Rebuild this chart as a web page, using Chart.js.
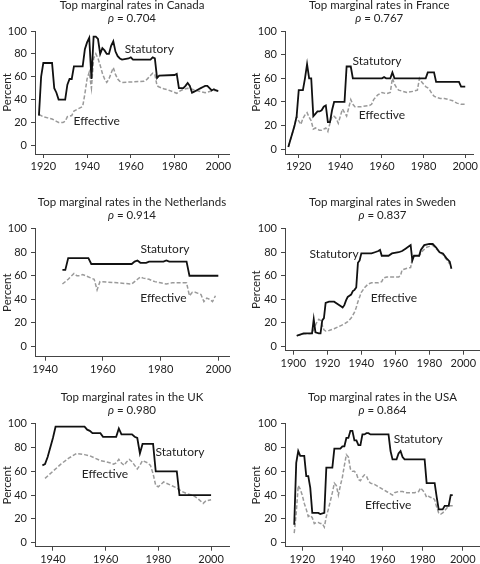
<!DOCTYPE html>
<html>
<head>
<meta charset="utf-8">
<script src="https://cdn.jsdelivr.net/npm/chart.js@4.4.1/dist/chart.umd.min.js"></script>
<style>
  body { margin: 0; background: #fff; }
  #wrap { position: relative; width: 480px; height: 564px; overflow: hidden; }
  #wrap canvas { position: absolute; }
</style>
</head>
<body>
<div id="wrap"></div>
<script>
// ---- data ----
const yTicks = [0, 20, 40, 60, 80, 100];

const caStatYears = [1918, 1919, 1920, 1924, 1925, 1926, 1927, 1930, 1931, 1932, 1933, 1934, 1938, 1939, 1940, 1941, 1942, 1943, 1944, 1945, 1946, 1947, 1948, 1949, 1950, 1951, 1952, 1953, 1954, 1955, 1956, 1959, 1960, 1961, 1969, 1970, 1971, 1972, 1973, 1980, 1981, 1982, 1984, 1985, 1986, 1987, 1988, 1989, 1990, 1991, 1992, 1993, 1994, 1995, 1996, 1997, 1998, 1999, 2000];
const caStat = [26, 60, 72, 72, 50, 46, 40, 40, 53, 58, 58, 69, 69, 84, 90, 94, 58, 95, 95, 93, 80, 85, 83, 80, 80, 87, 91, 82, 78, 76, 75, 76, 77, 75, 75, 77, 76, 59, 61, 61.5, 62.5, 50, 50, 52, 54.5, 52, 46, 47, 48, 49, 50, 51, 52, 52, 50, 48, 49, 48, 47.5];
const caEffYears = [1918, 1920, 1922, 1924, 1926, 1927, 1929, 1930, 1931, 1933, 1934, 1936, 1938, 1939, 1940, 1941, 1942, 1943, 1944, 1945, 1946, 1947, 1948, 1949, 1950, 1951, 1952, 1953, 1954, 1955, 1956, 1966, 1967, 1968, 1969, 1970, 1971, 1972, 1973, 1975, 1977, 1979, 1981, 1982, 1984, 1986, 1988, 1990, 1992, 1994, 1996, 1998, 2000];
const caEff = [27, 25, 24, 23, 21, 20, 20, 21, 25, 26, 30, 32, 34, 45, 58, 64, 50, 76, 80, 76, 70, 63, 58, 55, 58, 63, 68, 62, 58, 56, 55, 56, 57, 59, 61, 63, 62, 52, 51, 49.5, 48.5, 47, 45.5, 47, 49, 50, 49, 48, 47, 46, 47, 48, 48];

const frStatYears = [1915, 1916, 1917, 1918, 1919, 1920, 1922, 1923, 1924, 1925, 1926, 1927, 1928, 1929, 1930, 1931, 1932, 1933, 1934, 1935, 1936, 1937, 1942, 1943, 1945, 1946, 1960, 1961, 1962, 1964, 1965, 1966, 1981, 1982, 1985, 1986, 1997, 1998, 2000];
const frStat = [2, 8, 14, 20, 28, 50, 50, 60, 72, 60, 60, 28, 30, 32, 32, 33, 36, 37, 23, 23, 33, 40, 40, 70, 70, 60, 60, 61, 60, 60, 65, 60, 60, 65, 65, 57, 57, 53, 53];
const frEffYears = [1915, 1916, 1917, 1918, 1919, 1920, 1921, 1922, 1923, 1924, 1925, 1926, 1927, 1928, 1929, 1930, 1931, 1932, 1933, 1934, 1935, 1936, 1937, 1938, 1939, 1940, 1941, 1942, 1943, 1944, 1945, 1946, 1947, 1950, 1954, 1955, 1956, 1958, 1960, 1962, 1964, 1965, 1966, 1967, 1968, 1970, 1972, 1975, 1977, 1978, 1979, 1980, 1981, 1982, 1983, 1984, 1985, 1986, 1988, 1990, 1992, 1994, 1996, 1998, 2000];
const frEff = [2, 8, 14, 20, 28, 24, 21, 26, 29, 31, 27, 24, 17, 18, 17, 16, 16, 17, 18, 15, 22, 28, 28, 26, 22, 28, 34, 31, 28, 35, 42, 38, 36, 36, 37, 38, 42, 46, 48, 47, 48, 60, 55, 52, 50, 49, 48, 49, 50, 60, 57, 55, 53, 52, 50, 47, 45, 44, 43, 43, 42, 41, 39, 38, 38];

const nlStatYears = [1946, 1947, 1948, 1955, 1956, 1970, 1971, 1972, 1973, 1975, 1976, 1981, 1982, 1983, 1989, 1990, 2000];
const nlStat = [65, 65, 75, 75, 70, 70, 72, 73, 71, 71, 72, 72, 73, 72, 72, 60, 60];
const nlEffYears = [1946, 1948, 1950, 1951, 1952, 1953, 1954, 1956, 1957, 1958, 1959, 1965, 1970, 1971, 1972, 1973, 1974, 1976, 1978, 1980, 1982, 1984, 1989, 1990, 1991, 1992, 1993, 1994, 1995, 1996, 1997, 1998, 1999];
const nlEff = [53, 57, 62, 60, 60, 61, 60, 58, 57, 48, 55, 54, 53, 55, 57, 59, 58, 57, 55, 54, 53, 54, 54, 43, 46, 46, 45, 44, 38, 41, 40, 38, 43];

const seStatYears = [1902, 1904, 1906, 1911, 1912, 1913, 1915, 1916, 1917, 1918, 1919, 1921, 1924, 1926, 1928, 1929, 1930, 1931, 1932, 1933, 1934, 1935, 1936, 1937, 1938, 1939, 1940, 1946, 1948, 1950, 1951, 1952, 1956, 1958, 1962, 1964, 1966, 1968, 1969, 1970, 1971, 1974, 1975, 1977, 1980, 1982, 1984, 1986, 1988, 1990, 1992, 1993];
const seStat = [9, 10, 11, 11, 23, 12, 11, 11, 22, 24, 37, 38, 38, 36, 34, 33, 35, 39, 42, 43, 44, 47, 48, 50, 71, 73, 79, 79, 80, 81, 82, 77, 77, 79, 80, 81, 83, 85, 86, 73, 77, 77, 82, 86, 87, 87, 84, 80, 79, 75, 72, 66];
const seEffYears = [1902, 1904, 1906, 1911, 1912, 1913, 1914, 1915, 1916, 1917, 1918, 1919, 1921, 1924, 1927, 1930, 1932, 1934, 1936, 1937, 1938, 1939, 1940, 1942, 1944, 1946, 1950, 1952, 1953, 1955, 1962, 1963, 1964, 1966, 1969, 1970, 1971, 1974, 1976, 1978, 1980, 1982, 1984, 1986, 1988, 1990, 1992];
const seEff = [9, 10, 10.5, 11, 14, 18, 21, 23, 22, 18, 14, 13, 13.5, 15, 17, 19, 21, 24, 29, 33, 38, 42, 46, 50, 53, 54, 54, 55, 58, 59, 59, 60, 65, 66, 67, 75, 77, 77, 81, 84, 85, 86, 83, 80, 78, 74, 70];

const ukStatYears = [1936, 1937, 1938, 1939, 1940, 1941, 1952, 1953, 1954, 1955, 1958, 1959, 1964, 1965, 1966, 1970, 1971, 1972, 1973, 1974, 1978, 1979, 1987, 1988, 2000];
const ukStat = [65, 66, 72, 80, 88, 97.5, 97.5, 95, 94, 92, 92, 89, 89, 96, 91, 91, 89, 88, 75, 83, 83, 60, 60, 40, 40];
const ukEffYears = [1937, 1940, 1943, 1946, 1949, 1952, 1954, 1956, 1958, 1960, 1962, 1963, 1964, 1965, 1966, 1967, 1968, 1969, 1970, 1971, 1972, 1973, 1974, 1976, 1977, 1978, 1979, 1980, 1981, 1982, 1983, 1985, 1987, 1989, 1991, 1993, 1995, 1997, 1998, 2000];
const ukEff = [54, 60, 66, 71, 75, 74, 73, 71, 69, 68, 67, 66, 67, 70, 67, 65, 68, 70, 68, 65, 62, 65, 69, 67, 65, 58, 48, 47, 49, 51, 50, 48, 46, 43, 41, 40, 37, 33, 35, 36];

const usStatYears = [1916, 1917, 1918, 1919, 1921, 1922, 1923, 1924, 1925, 1928, 1929, 1931, 1932, 1935, 1936, 1939, 1940, 1941, 1942, 1943, 1944, 1945, 1946, 1947, 1948, 1949, 1950, 1951, 1952, 1953, 1954, 1963, 1964, 1965, 1967, 1968, 1969, 1970, 1971, 1981, 1982, 1986, 1987, 1988, 1990, 1991, 1993, 1994, 1995];
const usStat = [15, 67, 77, 73, 73, 56, 56, 46, 25, 25, 24, 25, 63, 63, 79, 79, 81, 81, 88, 88, 94, 94, 86, 86, 82, 82, 91, 91, 92, 92, 91, 91, 77, 70, 70, 75, 77, 72, 70, 70, 50, 50, 38.5, 28, 28, 31, 31, 40, 40];
const usEffYears = [1916, 1917, 1918, 1919, 1920, 1921, 1922, 1923, 1924, 1925, 1926, 1927, 1928, 1929, 1930, 1931, 1932, 1933, 1934, 1935, 1936, 1937, 1938, 1939, 1940, 1941, 1942, 1943, 1944, 1945, 1946, 1947, 1948, 1949, 1950, 1951, 1952, 1953, 1954, 1956, 1958, 1960, 1962, 1964, 1965, 1966, 1968, 1970, 1972, 1974, 1976, 1978, 1979, 1980, 1981, 1982, 1983, 1984, 1985, 1986, 1987, 1988, 1989, 1990, 1991, 1992, 1993, 1995];
const usEff = [8, 25, 48, 45, 40, 33, 28, 22, 23, 21, 16, 17, 17, 16, 16, 13, 22, 28, 35, 42, 50, 48, 40, 48, 55, 65, 74, 72, 62, 60, 60, 58, 53, 52, 55, 57, 56, 52, 50, 49, 47, 45, 43, 41, 40, 42, 43, 43, 42, 42, 42, 43, 46, 44, 42, 38, 39, 38, 38, 36, 30, 25, 24, 25, 27, 29, 31, 31];

// ---- panel layout ----
const panels = [
  { name: 'Canada', rho: '0.704', left: 0, top: 0, h: 185, areaTop: 31, areaBottom: 154, padLeft: 0, padRight: 11, yW: 35,
    xMin: 1916.2, xMax: 2004.9, yMin: -7.6, xTicks: [1920, 1940, 1960, 1980, 2000],
    stat: [caStatYears, caStat], eff: [caEffYears, caEff], statLbl: [1968.5, 84], effLbl: [1944.4, 21] },
  { name: 'France', rho: '0.767', left: 240, top: 0, h: 185, areaTop: 31, areaBottom: 154, padLeft: 9, padRight: 0, yW: 36,
    xMin: 1913.4, xMax: 2004, yMin: -4, xTicks: [1920, 1940, 1960, 1980, 2000],
    stat: [frStatYears, frStat], eff: [frEffYears, frEff], statLbl: [1957.6, 74.4], effLbl: [1960, 29] },
  { name: 'the Netherlands', rho: '0.914', left: 0, top: 185, h: 190, areaTop: 43.7, areaBottom: 171.7, padLeft: 0, padRight: 11, yW: 35,
    xMin: 1936.5, xMax: 2003.7, yMin: -8.8, xTicks: [1940, 1960, 1980, 2000],
    stat: [nlStatYears, nlStat], eff: [nlEffYears, nlEff], statLbl: [1981.5, 83], effLbl: [1981, 41] },
  { name: 'Sweden', rho: '0.837', left: 240, top: 185, h: 190, areaTop: 43.7, areaBottom: 165.7, padLeft: 9, padRight: 0, yW: 36,
    xMin: 1895.1, xMax: 2009.8, yMin: -3.7, xTicks: [1900, 1920, 1940, 1960, 1980, 2000],
    stat: [seStatYears, seStat], eff: [seEffYears, seEff], statLbl: [1924, 78.4], effLbl: [1959.2, 41] },
  { name: 'the UK', rho: '0.980', left: 0, top: 375, h: 189, areaTop: 48.7, areaBottom: 171.7, padLeft: 0, padRight: 11, yW: 35,
    xMin: 1933.2, xMax: 2006.8, yMin: -3.4, xTicks: [1940, 1960, 1980, 2000],
    stat: [ukStatYears, ukStat], eff: [ukEffYears, ukEff], statLbl: [1988.2, 76.4], effLbl: [1959.7, 58] },
  { name: 'the USA', rho: '0.864', left: 240, top: 375, h: 189, areaTop: 48.7, areaBottom: 171.7, padLeft: 9, padRight: 0, yW: 36,
    xMin: 1911.4, xMax: 2008.6, yMin: -3.4, xTicks: [1920, 1940, 1960, 1980, 2000],
    stat: [usStatYears, usStat], eff: [usEffYears, usEff], statLbl: [1977.8, 87], effLbl: [1962.8, 31.5] }
];

const FONT = 'Lato, "DejaVu Sans", sans-serif';
const AXIS = '#444';
const TEXT = '#222';

function toPts(xs, ys) {
  return xs.map((x, i) => ({ x: x, y: ys[i] }));
}

// titles and in-plot series labels
const decor = {
  id: 'decor',
  afterDraw(chart) {
    const p = chart.options.plugins.decor;
    const ctx = chart.ctx;
    const a = chart.chartArea;
    const cx = (a.left + a.right) / 2;
    ctx.save();
    ctx.fillStyle = TEXT;
    ctx.textBaseline = 'middle';
    ctx.textAlign = 'center';
    ctx.font = '11.5px ' + FONT;
    ctx.fillText('Top marginal rates in ' + p.name, cx, a.top - 26);
    // rho line: italic rho + normal rest
    const rest = ' = ' + p.rho;
    ctx.font = 'italic 11.5px ' + FONT;
    const w1 = ctx.measureText('ρ').width;
    ctx.font = '11.5px ' + FONT;
    const w2 = ctx.measureText(rest).width;
    const x0 = cx - (w1 + w2) / 2;
    ctx.textAlign = 'left';
    ctx.font = 'italic 11.5px ' + FONT;
    ctx.fillText('ρ', x0, a.top - 13);
    ctx.font = '11.5px ' + FONT;
    ctx.fillText(rest, x0 + w1, a.top - 13);
    // series labels at data positions
    const xs = chart.scales.x, ys = chart.scales.y;
    ctx.textAlign = 'center';
    ctx.font = '12px ' + FONT;
    ctx.fillText('Statutory', xs.getPixelForValue(p.statLbl[0]), ys.getPixelForValue(p.statLbl[1]));
    ctx.fillText('Effective', xs.getPixelForValue(p.effLbl[0]), ys.getPixelForValue(p.effLbl[1]));
    ctx.restore();
  }
};

const wrap = document.getElementById('wrap');

panels.forEach(p => {
  const cv = document.createElement('canvas');
  cv.width = 240;
  cv.height = p.h;
  cv.style.left = p.left + 'px';
  cv.style.top = p.top + 'px';
  wrap.appendChild(cv);

  new Chart(cv, {
    type: 'line',
    data: {
      datasets: [
        {
          data: toPts(p.stat[0], p.stat[1]),
          borderColor: '#111',
          borderWidth: 1.8,
          pointRadius: 0,
          tension: 0
        },
        {
          data: toPts(p.eff[0], p.eff[1]),
          borderColor: '#9a9a9a',
          borderWidth: 1.5,
          borderDash: [4, 2],
          pointRadius: 0,
          tension: 0
        }
      ]
    },
    options: {
      responsive: false,
      animation: false,
      events: [],
      layout: {
        autoPadding: false,
        padding: { top: p.areaTop, left: p.padLeft, right: p.padRight, bottom: 0 }
      },
      plugins: {
        legend: { display: false },
        tooltip: { enabled: false },
        decor: p
      },
      scales: {
        x: {
          type: 'linear',
          min: p.xMin,
          max: p.xMax,
          afterBuildTicks: s => { s.ticks = p.xTicks.map(v => ({ value: v })); },
          afterFit: s => { s.height = p.h - p.areaBottom; },
          grid: { drawOnChartArea: false, tickLength: 4, color: AXIS },
          border: { color: AXIS, width: 1 },
          ticks: { padding: 2, color: TEXT, font: { family: FONT, size: 11 }, maxRotation: 0, autoSkip: false, callback: v => String(v) }
        },
        y: {
          min: p.yMin,
          max: 100,
          afterBuildTicks: s => { s.ticks = yTicks.map(v => ({ value: v })); },
          afterFit: s => { s.width = p.yW; },
          grid: { drawOnChartArea: false, tickLength: 4, color: AXIS },
          border: { color: AXIS, width: 1 },
          ticks: { padding: 4, color: TEXT, font: { family: FONT, size: 11 } },
          title: { display: true, text: 'Percent', color: TEXT, padding: 0, font: { family: FONT, size: 11.5 } }
        }
      }
    },
    plugins: [decor]
  });
});
</script>
</body>
</html>
